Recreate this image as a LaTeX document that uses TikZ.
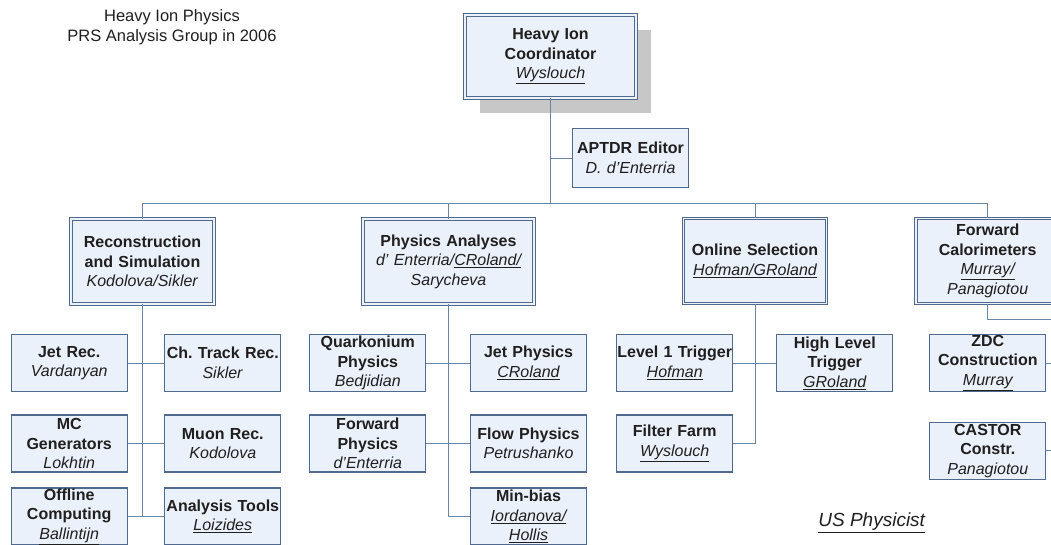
\documentclass[tikz,border=0pt]{standalone}
\usepackage{fontspec}
\setmainfont{Liberation Sans}
\usetikzlibrary{shadows}
\frenchspacing

\definecolor{boxline}{HTML}{50698C}
\definecolor{boxfill}{HTML}{EBF1FA}
\definecolor{linkline}{HTML}{6A84A6}

\begin{document}
\begin{tikzpicture}[x=1pt, y=-1pt, font=\fontsize{16}{19.5}\selectfont, text=black!88,
    task/.style={rectangle, draw=boxline, line width=1.1pt, fill=boxfill, inner sep=0pt,
        minimum width=116pt, minimum height=57pt, text width=116pt, align=center},
    group/.style={task, line width=0.9pt, double=boxfill, double distance=1.8pt,
        minimum width=143pt, text width=143pt, minimum height=85pt},
    chief/.style={group, minimum width=171pt, text width=171pt, minimum height=83pt,
        drop shadow={shadow xshift=15pt, shadow yshift=-15pt, fill=black!22, opacity=1}},
    link/.style={draw=linkline, line width=1pt}]

    % nombre subrayado = fisico de EE.UU.
    \newcommand{\usname}[1]{\underline{#1}}

    \useasboundingbox (0,0) rectangle (1051,544);
    \clip (0,0) rectangle (1051,544);

    % titulo
    \node[align=center, font=\fontsize{16.5}{20}\selectfont] (title) at (172,27) {Heavy Ion Physics\\PRS Analysis Group in 2006};

    % coordinador y editor
    \node[chief] (top) at (550.5,56.5) {\textbf{Heavy Ion}\\\textbf{Coordinator}\\\textit{\usname{Wyslouch}}};
    \node[task, minimum height=59pt] (aptdr) at (630.5,158) {\textbf{APTDR Editor}\\\textit{D. d'Enterria}};

    % grupos
    \node[group] (rec) at (142.5,261.5) {\textbf{Reconstruction}\\\textbf{and Simulation}\\\textit{Kodolova/Sikler}};
    \node[group, minimum width=171pt, text width=171pt] (ana) at (448.5,261.5) {\textbf{Physics Analyses}\\\textit{d' Enterria/\usname{CRoland/}}\\\textit{Sarycheva}};
    \node[group] (onl) at (755,261) {\textbf{Online Selection}\\\textit{\usname{Hofman/GRoland}}};
    \node[group] (fwd) at (987.7,261) {\textbf{Forward}\\\textbf{Calorimeters}\\\textit{\usname{Murray/}}\\\textit{Panagiotou}};

    % reconstruccion y simulacion
    \node[task] (jetrec) at (69.2,363) {\textbf{Jet Rec.}\\\textit{Vardanyan}};
    \node[task] (trackrec) at (222.8,363) {\textbf{Ch. Track Rec.}\\\textit{Sikler}};
    \node[task] (mcgen) at (69.2,443.5) {\textbf{MC}\\\textbf{Generators}\\\textit{Lokhtin}};
    \node[task] (muonrec) at (222.8,443.5) {\textbf{Muon Rec.}\\\textit{Kodolova}};
    \node[task] (offline) at (69.2,516.5) {\textbf{Offline}\\\textbf{Computing}\\\textit{\usname{Ballintijn}}};
    \node[task] (tools) at (222.8,516.5) {\textbf{Analysis Tools}\\\textit{\usname{Loizides}}};

    % analisis de fisica
    \node[task] (quark) at (367.8,363) {\textbf{Quarkonium}\\\textbf{Physics}\\\textit{Bedjidian}};
    \node[task] (jetphys) at (528.5,363) {\textbf{Jet Physics}\\\textit{\usname{CRoland}}};
    \node[task] (fwdphys) at (367.8,443.5) {\textbf{Forward}\\\textbf{Physics}\\\textit{d'Enterria}};
    \node[task] (flow) at (528.5,443.5) {\textbf{Flow Physics}\\\textit{Petrushanko}};
    \node[task] (minbias) at (528.5,516.5) {\textbf{Min-bias}\\\textit{\usname{Iordanova/}}\\\textit{\usname{Hollis}}};

    % seleccion en linea
    \node[task] (level1) at (674.7,363) {\textbf{Level 1 Trigger}\\\textit{\usname{Hofman}}};
    \node[task] (hlt) at (834.8,363) {\textbf{High Level}\\\textbf{Trigger}\\\textit{\usname{GRoland}}};
    \node[task] (farm) at (674.7,443.5) {\textbf{Filter Farm}\\\textit{\usname{Wyslouch}}};

    % calorimetros delanteros
    \node[task] (zdc) at (987.8,363) {\textbf{ZDC}\\\textbf{Construction}\\\textit{\usname{Murray}}};
    \node[task] (castor) at (987.8,450.8) {\textbf{CASTOR}\\\textbf{Constr.}\\\textit{Panagiotou}};

    \node[font=\fontsize{19}{22}\selectfont] (us) at (871.7,522.7) {\textit{\usname{US Physicist}}};

    % lineas
    \coordinate (bus) at (0,203);
    \coordinate (fwdbus) at (1058,319);
    \draw[link] (top.south) -- (top.south |- bus);
    \draw[link] (aptdr.west) -- (aptdr.west -| top.south);
    \draw[link] (rec.north) -- (rec.north |- bus) -- (fwd.north |- bus) -- (fwd.north);
    \draw[link] (ana.north) -- (ana.north |- bus);
    \draw[link] (onl.north) -- (onl.north |- bus);

    \draw[link] (rec.south) -- (rec.south |- offline.east);
    \draw[link] (jetrec.east) -- (trackrec.west);
    \draw[link] (mcgen.east) -- (muonrec.west);
    \draw[link] (offline.east) -- (tools.west);

    \draw[link] (ana.south) -- (ana.south |- minbias.west) -- (minbias.west);
    \draw[link] (quark.east) -- (jetphys.west);
    \draw[link] (fwdphys.east) -- (flow.west);

    \draw[link] (onl.south) -- (onl.south |- farm.east) -- (farm.east);
    \draw[link] (level1.east) -- (hlt.west);

    \draw[link] (fwd.south) -- (fwd.south |- fwdbus) -- (fwdbus) -- (fwdbus |- castor.east);
    \draw[link] (zdc.east) -- (zdc.east -| fwdbus);
    \draw[link] (castor.east) -- (castor.east -| fwdbus);

\end{tikzpicture}
\end{document}
